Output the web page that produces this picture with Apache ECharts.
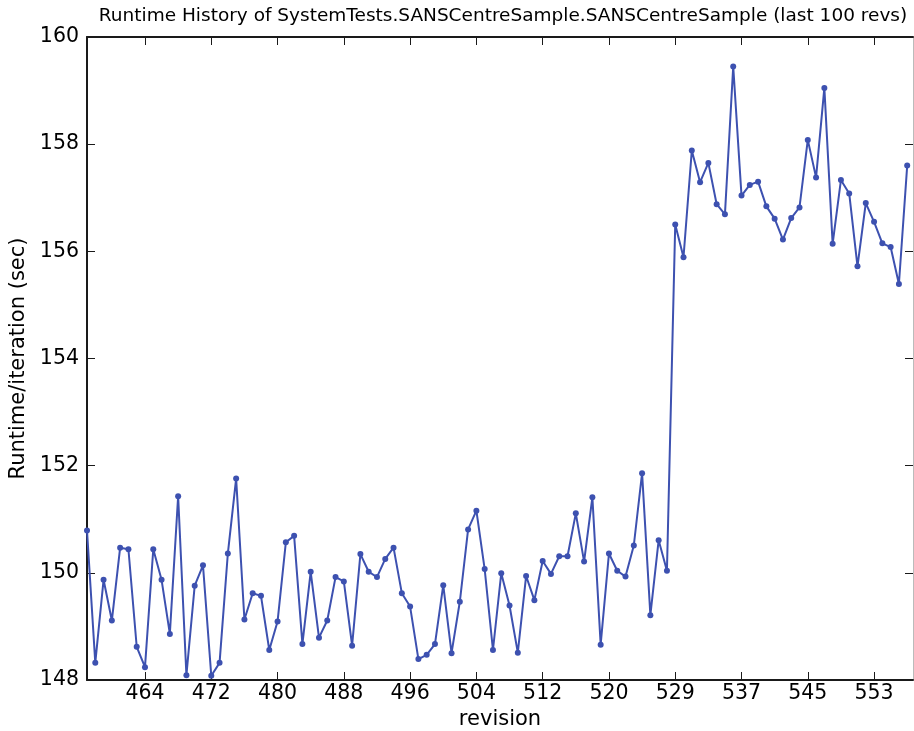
<!DOCTYPE html>
<html>
<head>
<meta charset="utf-8">
<script src="https://cdn.jsdelivr.net/npm/echarts@6/dist/echarts.min.js"></script>
<style>
  html, body { margin: 0; padding: 0; background: #fff; }
  #chart { width: 914px; height: 731px; }
</style>
</head>
<body>
<div id="chart"></div>
<script>
// Revision numbers, one per run (one revision between 520 and 529 has no run)
var revisions = [
  457, 458, 459, 460, 461, 462, 463, 464, 465, 466,
  467, 468, 469, 470, 471, 472, 473, 474, 475, 476,
  477, 478, 479, 480, 481, 482, 483, 484, 485, 486,
  487, 488, 489, 490, 491, 492, 493, 494, 495, 496,
  497, 498, 499, 500, 501, 502, 503, 504, 505, 506,
  507, 508, 509, 510, 511, 512, 513, 514, 515, 516,
  517, 518, 519, 520, 521, 522, 523, 525, 526, 527,
  528, 529, 530, 531, 532, 533, 534, 535, 536, 537,
  538, 539, 540, 541, 542, 543, 544, 545, 546, 547,
  548, 549, 550, 551, 552, 553, 554, 555, 556, 557
];

// Runtime per iteration in seconds
var runtimes = [
  150.79, 148.32, 149.87, 149.11, 150.47, 150.44, 148.62, 148.24, 150.44, 149.87,
  148.86, 151.43, 148.09, 149.76, 150.14, 148.08, 148.32, 150.36, 151.76, 149.13,
  149.62, 149.57, 148.56, 149.09, 150.57, 150.69, 148.67, 150.02, 148.79, 149.11,
  149.92, 149.84, 148.64, 150.35, 150.02, 149.92, 150.26, 150.47, 149.62, 149.37,
  148.39, 148.47, 148.67, 149.77, 148.50, 149.46, 150.81, 151.16, 150.07, 148.56,
  149.99, 149.39, 148.51, 149.94, 149.49, 150.22, 149.98, 150.31, 150.31, 151.11,
  150.21, 151.41, 148.66, 150.36, 150.04, 149.93, 150.51, 151.86, 149.21, 150.61,
  150.04, 156.50, 155.89, 157.88, 157.29, 157.65, 156.88, 156.69, 159.45, 157.04,
  157.24, 157.30, 156.84, 156.61, 156.22, 156.62, 156.82, 158.08, 157.38, 159.05,
  156.14, 157.33, 157.08, 155.72, 156.90, 156.55, 156.15, 156.08, 155.39, 157.60
];

// Positions (run index) that carry a revision label
var labelledRuns = [7, 15, 23, 31, 39, 47, 55, 63, 71, 79, 87, 95];

var yTicks = [148, 150, 152, 154, 156, 158, 160];

var titleText = 'Runtime History of SystemTests.SANSCentreSample.SANSCentreSample (last 100 revs)';

var FONT = 'DejaVu Sans';
var LINE = '#3d51b0';
var AXIS = '#1a1a1a';

var points = runtimes.map(function (v, i) { return [i, v]; });

var chart = echarts.init(document.getElementById('chart'), null, { renderer: 'canvas' });

chart.setOption({
  animation: false,
  backgroundColor: '#fff',
  grid: { left: 87, right: 1, top: 37, bottom: 51, containLabel: false, outerBoundsMode: 'none' },
  graphic: [{
    type: 'text',
    x: 503, y: 7,
    style: {
      text: titleText,
      font: '18.5px "' + FONT + '"',
      fill: '#000',
      textAlign: 'center'
    }
  }],
  xAxis: [{
    type: 'value',
    position: 'bottom',
    min: 0, max: 99.7,
    name: 'revision',
    nameLocation: 'middle',
    nameGap: 28,
    nameTextStyle: { fontFamily: FONT, fontSize: 21, color: '#000' },
    axisLine: { show: true, onZero: false, lineStyle: { color: AXIS, width: 2 } },
    axisTick: { show: true, inside: true, length: 8, customValues: labelledRuns, lineStyle: { color: AXIS, width: 1 } },
    axisLabel: {
      show: true, margin: 3, customValues: labelledRuns,
      fontFamily: FONT, fontSize: 20.5, color: '#000',
      formatter: function (v) { return String(revisions[Math.round(v)]); }
    },
    splitLine: { show: false }
  }, {
    type: 'value',
    position: 'top',
    min: 0, max: 99.7,
    axisLine: { show: true, onZero: false, lineStyle: { color: AXIS, width: 2 } },
    axisTick: { show: true, inside: true, length: 8, customValues: labelledRuns, lineStyle: { color: AXIS, width: 1 } },
    axisLabel: { show: false },
    splitLine: { show: false }
  }],
  yAxis: [{
    type: 'value',
    position: 'left',
    min: 148, max: 160, interval: 2,
    name: 'Runtime/iteration (sec)',
    nameLocation: 'middle',
    nameGap: 56,
    nameTextStyle: { fontFamily: FONT, fontSize: 21, color: '#000' },
    axisLine: { show: true, onZero: false, lineStyle: { color: AXIS, width: 2 } },
    axisTick: { show: true, inside: true, length: 8, lineStyle: { color: AXIS, width: 1 } },
    axisLabel: {
      show: true, margin: 8,
      fontFamily: FONT, fontSize: 20.5, color: '#000',
      formatter: function (v) { return yTicks.indexOf(v) >= 0 ? String(v) : ''; }
    },
    splitLine: { show: false }
  }, {
    type: 'value',
    position: 'right',
    min: 148, max: 160, interval: 2,
    axisLine: { show: true, onZero: false, lineStyle: { color: '#bbb', width: 1 } },
    axisTick: { show: true, inside: true, length: 8, lineStyle: { color: AXIS, width: 1 } },
    axisLabel: { show: false },
    splitLine: { show: false }
  }],
  series: [{
    type: 'line',
    xAxisIndex: 0,
    yAxisIndex: 0,
    data: points,
    symbol: 'circle',
    symbolSize: 6,
    showSymbol: true,
    clip: false,
    lineStyle: { color: LINE, width: 2 },
    itemStyle: { color: LINE, borderWidth: 0 }
  }]
});
</script>
</body>
</html>
